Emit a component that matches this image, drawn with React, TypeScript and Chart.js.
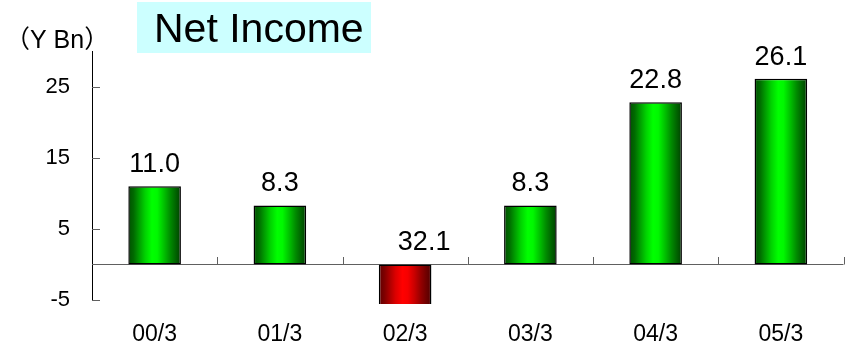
import { useEffect, useRef } from "react";
import { Chart, registerables } from "chart.js";

Chart.register(...registerables);

// Fiscal periods and net income (billions of yen)
const periods = ["00/3", "01/3", "02/3", "03/3", "04/3", "05/3"];
const netIncome = [11.0, 8.3, -32.1, 8.3, 22.8, 26.1];
const yTicks = [-5, 5, 15, 25];
const titleText = "Net Income";
const unitText = "（Y Bn）";

const FONT = '"Liberation Sans", Arial, "Noto Sans CJK JP", sans-serif';
const BAR_FRACTION = 0.6 * 0.7;

const greenStops: [number, string][] = [
  [0, "#005000"],
  [0.1, "#006a00"],
  [0.2, "#009a00"],
  [0.32, "#00d200"],
  [0.45, "#00ff00"],
  [0.55, "#00f800"],
  [0.68, "#00c000"],
  [0.8, "#008a00"],
  [0.9, "#006400"],
  [1, "#004000"],
];
const redStops: [number, string][] = [
  [0, "#600000"],
  [0.1, "#7c0000"],
  [0.2, "#a80000"],
  [0.32, "#dc0000"],
  [0.45, "#ff0000"],
  [0.55, "#f60000"],
  [0.68, "#c80000"],
  [0.8, "#940000"],
  [0.9, "#700000"],
  [1, "#500000"],
];

function barFill(ctx: CanvasRenderingContext2D, left: number, right: number, positive: boolean) {
  const g = ctx.createLinearGradient(left, 0, right, 0);
  for (const [o, c] of positive ? greenStops : redStops) g.addColorStop(o, c);
  return g;
}

const decorations = {
  id: "decorations",
  beforeDatasetsDraw(chart: any) {
    const { ctx, chartArea } = chart;
    const xs = chart.scales.x;
    const ys = chart.scales.y;
    const y0 = ys.getPixelForValue(0);
    ctx.save();
    // zero line with category separators
    ctx.strokeStyle = "#606060";
    ctx.lineWidth = 1;
    ctx.beginPath();
    ctx.moveTo(chartArea.left, Math.round(y0) + 0.5);
    ctx.lineTo(chartArea.right, Math.round(y0) + 0.5);
    for (let i = 0; i < periods.length; i++) {
      const x = Math.round(xs.getPixelForValue(i + 0.5)) + 0.5;
      ctx.moveTo(x, Math.round(y0) + 0.5);
      ctx.lineTo(x, Math.round(y0) - 7);
    }
    ctx.stroke();
    // inward tick marks on the value axis
    ctx.beginPath();
    for (const t of yTicks) {
      const y = Math.round(ys.getPixelForValue(t)) + 0.5;
      ctx.moveTo(chartArea.left, y);
      ctx.lineTo(chartArea.left + 8, y);
    }
    ctx.stroke();
    ctx.restore();
  },
  afterDatasetsDraw(chart: any) {
    const { ctx } = chart;
    const ys = chart.scales.y;
    const y0 = ys.getPixelForValue(0);
    const meta = chart.getDatasetMeta(0);
    ctx.save();
    ctx.fillStyle = "#000";
    ctx.font = `27px ${FONT}`;
    ctx.textAlign = "center";
    ctx.textBaseline = "alphabetic";
    meta.data.forEach((el: any, i: number) => {
      const v = netIncome[i];
      const top = Math.min(el.y, y0);
      const x = el.x + (v < 0 ? 19 : 0);
      ctx.fillText(Math.abs(v).toFixed(1), x, top - 14);
    });
    ctx.restore();
  },
  afterDraw(chart: any) {
    const { ctx } = chart;
    ctx.save();
    // title box
    ctx.fillStyle = "#ccffff";
    ctx.fillRect(137, 2, 234, 51);
    ctx.fillStyle = "#000";
    ctx.font = `41px ${FONT}`;
    ctx.textAlign = "left";
    ctx.textBaseline = "alphabetic";
    ctx.fillText(titleText, 154, 42);
    // unit label
    ctx.font = `25px ${FONT}`;
    ctx.fillText(unitText, 5, 48);
    ctx.restore();
  },
};

export default function App() {
  const canvasRef = useRef<HTMLCanvasElement | null>(null);

  useEffect(() => {
    const canvas = canvasRef.current;
    if (!canvas) return;
    const chart = new Chart(canvas, {
      type: "bar",
      data: {
        labels: periods,
        datasets: [
          {
            data: netIncome,
            backgroundColor: (c: any) => {
              const chart = c.chart;
              const xs = chart.scales?.x;
              const v = c.raw as number;
              if (!xs || !chart.chartArea) return v < 0 ? "#e00000" : "#00e000";
              const cx = xs.getPixelForValue(c.dataIndex);
              const half = ((xs.width / periods.length) * BAR_FRACTION) / 2;
              return barFill(chart.ctx, cx - half, cx + half, v >= 0);
            },
            borderColor: "#000000",
            borderWidth: 1.5,
            borderSkipped: false,
            barPercentage: 0.6,
            categoryPercentage: 0.7,
            clip: { left: 10, top: 10, right: 10, bottom: 4 } as any,
          },
        ],
      },
      options: {
        responsive: false,
        animation: false,
        layout: { padding: { top: 51, right: 6.5, left: 0, bottom: 0 } },
        plugins: {
          legend: { display: false },
          tooltip: { enabled: false },
          title: { display: false },
        },
        scales: {
          x: {
            grid: { display: false },
            border: { display: false },
            ticks: {
              color: "#000",
              font: { family: FONT, size: 23 },
              padding: 13,
              maxRotation: 0,
            },
            afterFit: (s: any) => {
              s.height = 52;
            },
          },
          y: {
            min: -5,
            max: 30,
            grid: { display: false, drawTicks: false },
            border: { display: true, color: "#000", width: 1 },
            afterBuildTicks: (s: any) => {
              s.ticks = yTicks.map((v) => ({ value: v }));
            },
            ticks: {
              color: "#000",
              font: { family: FONT, size: 22 },
              padding: 22,
            },
            afterFit: (s: any) => {
              s.width = 92;
            },
          },
        },
      },
      plugins: [decorations],
    });
    return () => chart.destroy();
  }, []);

  return (
    <div style={{ position: "absolute", left: 0, top: 0, width: 850, height: 352, background: "#fff" }}>
      <canvas ref={canvasRef} width={850} height={352} style={{ display: "block" }} />
    </div>
  );
}
